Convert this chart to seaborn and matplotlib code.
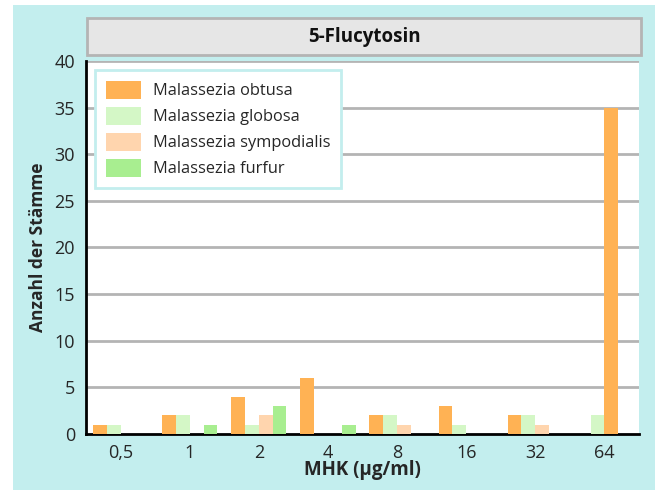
import matplotlib
matplotlib.use("Agg")
import matplotlib.pyplot as plt
from matplotlib.patches import Rectangle
import seaborn as sns
import pandas as pd

categories = ["0,5", "1", "2", "4", "8", "16", "32", "64"]
series = ["Malassezia obtusa", "Malassezia globosa", "Malassezia sympodialis", "Malassezia furfur"]
obtusa = [1, 2, 4, 6, 2, 3, 2, 35]
globosa = [1, 2, 1, 0, 2, 1, 2, 2]
sympodialis = [0, 0, 2, 0, 1, 0, 1, 0]
furfur = [0, 1, 3, 1, 0, 0, 0, 0]
colors = ["#FFB254", "#D4F7C6", "#FFD5AE", "#A8EE90"]
yticks = [0, 5, 10, 15, 20, 25, 30, 35, 40]

rows = []
for name, vals in zip(series, [obtusa, globosa, sympodialis, furfur]):
    for c, v in zip(categories, vals):
        rows.append({"MHK": c, "Anzahl": v, "Art": name})
df = pd.DataFrame(rows)

sns.set_style("white")
plt.rcParams["font.family"] = ["Open Sans", "DejaVu Sans"]

BG = "#C3EEEE"
fig = plt.figure(figsize=(6.55, 4.9), dpi=100)
fig.patch.set_facecolor("white")
fig.patches.append(Rectangle((13 / 655, 0), 1 - 13 / 655, 1 - 5 / 490,
                             transform=fig.transFigure, facecolor=BG,
                             edgecolor="none", zorder=-10))
# title box
fig.patches.append(Rectangle((87 / 655, 1 - 55 / 490), (641 - 87) / 655, 37 / 490,
                             transform=fig.transFigure, facecolor="#E6E6E6",
                             edgecolor="#B4B4B4", linewidth=2, zorder=-5))
fig.text((87 + 641) / 2 / 655, 1 - 37 / 490, "5-Flucytosin", ha="center", va="center",
         fontsize=13.5, fontweight="bold", color="#111111")

ax = fig.add_axes([86 / 655, 1 - 434 / 490, (639 - 86) / 655, (434 - 61) / 490])
ax.set_facecolor("white")

sns.barplot(data=df, x="MHK", y="Anzahl", hue="Art", order=categories,
            hue_order=series, palette=colors, width=0.8, linewidth=0,
            saturation=1, ax=ax, legend=True, zorder=3)

# in the reference, the tall obtusa bar at 64 sits in the third slot
bars = ax.containers[0]
p = bars.patches[-1]
p.set_x(p.get_x() + 2 * p.get_width())

ax.set_ylim(0, 40)
ax.set_xlim(-0.5, len(categories) - 0.5)
ax.set_yticks(yticks)
ax.set_yticklabels([str(t) for t in yticks], fontsize=13)
for t in yticks[1:]:
    ax.axhline(t, color="#B4B4B4", linewidth=2, zorder=1)

ax.set_xticks(range(len(categories)))
ax.set_xticklabels(categories, fontsize=13)
ax.set_xticks([i - 0.5 for i in range(len(categories) + 1)], minor=True)
ax.tick_params(axis="x", which="major", length=0, pad=7)
ax.tick_params(axis="x", which="minor", length=6, width=2, color="black", direction="out")
ax.tick_params(axis="y", which="major", length=7, width=2, color="black", direction="out", pad=1)

for s in ["top", "right"]:
    ax.spines[s].set_visible(False)
ax.spines["left"].set_linewidth(2)
ax.spines["bottom"].set_linewidth(2)
ax.spines["left"].set_color("black")
ax.spines["bottom"].set_color("black")

ax.set_xlabel("MHK (\u00b5g/ml)", fontsize=13.5, fontweight="bold", labelpad=-1)
ax.set_ylabel("Anzahl der St\u00e4mme", fontsize=12.5, fontweight="bold", labelpad=5)

leg = ax.legend(loc="upper left", bbox_to_anchor=(0.016, 0.976), borderaxespad=0,
                fontsize=11.8, frameon=True, fancybox=False, handlelength=2.15,
                handleheight=1.35, handletextpad=0.75, borderpad=0.65, labelspacing=0.45)
leg.get_frame().set_edgecolor("#C3EEEE")
leg.get_frame().set_linewidth(2)
leg.get_frame().set_facecolor("white")
leg.get_frame().set_alpha(1)

fig.savefig("out.png", dpi=100, facecolor=fig.get_facecolor())
